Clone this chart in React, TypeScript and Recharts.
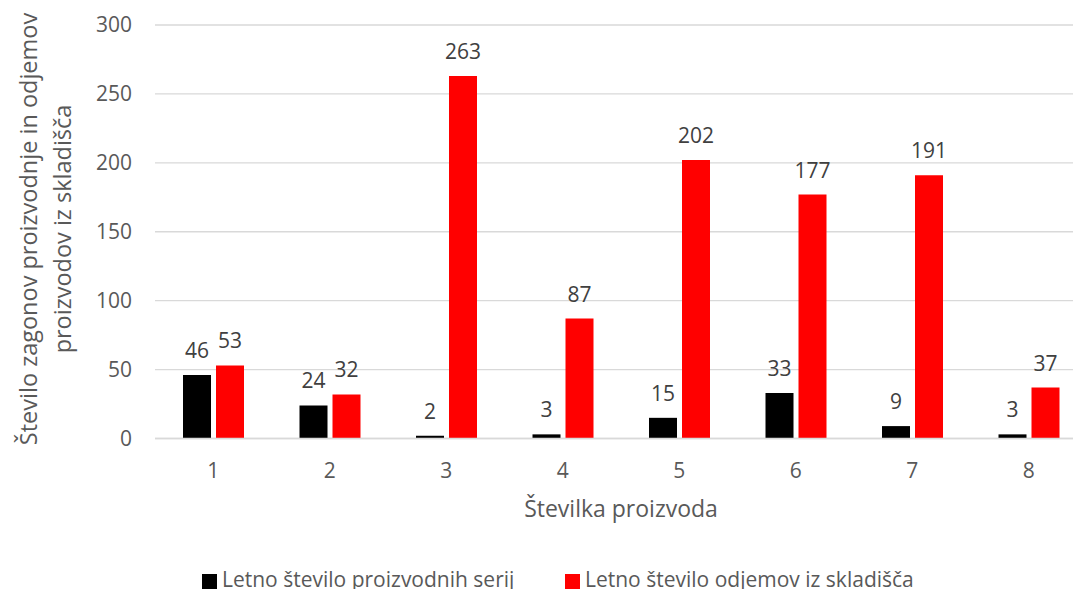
import { BarChart, Bar, XAxis, YAxis, CartesianGrid, Legend, LabelList } from 'recharts'

const products = ['1', '2', '3', '4', '5', '6', '7', '8']
const productionRuns = [46, 24, 2, 3, 15, 33, 9, 3]
const warehouseWithdrawals = [53, 32, 263, 87, 202, 177, 191, 37]
const yTicks = [0, 50, 100, 150, 200, 250, 300]

const seriesNames = ['Letno število proizvodnih serij', 'Letno število odjemov iz skladišča']
const seriesColors = ['#000000', '#ff0000']

const data = products.map((p, i) => ({
  product: p,
  runs: productionRuns[i],
  withdrawals: warehouseWithdrawals[i],
}))

const FONT = '"Open Sans", sans-serif'
const TEXT = '#595959'

function YLabel() {
  return (
    <g fontFamily={FONT} fontSize={23.5} fill={TEXT}>
      <text x={28} y={229} textAnchor="middle" dominantBaseline="central" transform="rotate(-90 28 229)">
        Število zagonov proizvodnje in odjemov
      </text>
      <text x={62} y={229} textAnchor="middle" dominantBaseline="central" transform="rotate(-90 62 229)">
        proizvodov iz skladišča
      </text>
    </g>
  )
}

function LegendContent() {
  return (
    <div style={{ position: 'relative', width: 1100, height: 30, fontFamily: FONT, fontSize: 21, lineHeight: '30px', color: TEXT }}>
      {seriesNames.map((name, i) => (
        <div
          key={name}
          style={{ position: 'absolute', left: i === 0 ? 202 : 565, top: 0, display: 'flex', alignItems: 'center', whiteSpace: 'nowrap' }}
        >
          <span style={{ display: 'inline-block', width: 15, height: 15, background: seriesColors[i], marginRight: 5, marginTop: 4 }} />
          {name}
        </div>
      ))}
    </div>
  )
}

export default function App() {
  return (
    <div style={{ position: 'fixed', left: 0, top: 0, width: 1073, height: 589, overflow: 'hidden', background: '#fff' }}>
      <BarChart
        width={1100}
        height={600}
        data={data}
        margin={{ top: 25, right: 13, left: 0, bottom: 71.5 }}
        barSize={28}
        barGap={5}
      >
        <CartesianGrid vertical={false} stroke="#d9d9d9" strokeWidth={1.3} />
        <XAxis
          dataKey="product"
          height={90}
          tickLine={false}
          tickSize={0}
          tickMargin={25}
          axisLine={{ stroke: '#d9d9d9', strokeWidth: 1.3 }}
          tick={{ fill: TEXT, fontSize: 21, fontFamily: FONT }}
          label={{ value: 'Številka proizvoda', position: 'insideBottom', offset: 0, dy: -12, fill: TEXT, fontSize: 23, fontFamily: FONT }}
        />
        <YAxis
          width={155}
          domain={[0, 300]}
          ticks={yTicks}
          axisLine={false}
          tickLine={false}
          tickSize={0}
          tickMargin={23}
          tick={{ fill: TEXT, fontSize: 21, fontFamily: FONT }}
          label={<YLabel />}
        />
        <Legend
          verticalAlign="middle"
          layout="horizontal"
          content={<LegendContent />}
          wrapperStyle={{ top: 564, left: 0, width: 1100 }}
        />
        <Bar dataKey="runs" name={seriesNames[0]} fill={seriesColors[0]} isAnimationActive={false}>
          <LabelList dataKey="runs" position="top" offset={17} fill="#404040" fontSize={21} fontFamily={FONT} />
        </Bar>
        <Bar dataKey="withdrawals" name={seriesNames[1]} fill={seriesColors[1]} isAnimationActive={false}>
          <LabelList dataKey="withdrawals" position="top" offset={17} fill="#404040" fontSize={21} fontFamily={FONT} />
        </Bar>
      </BarChart>
    </div>
  )
}
